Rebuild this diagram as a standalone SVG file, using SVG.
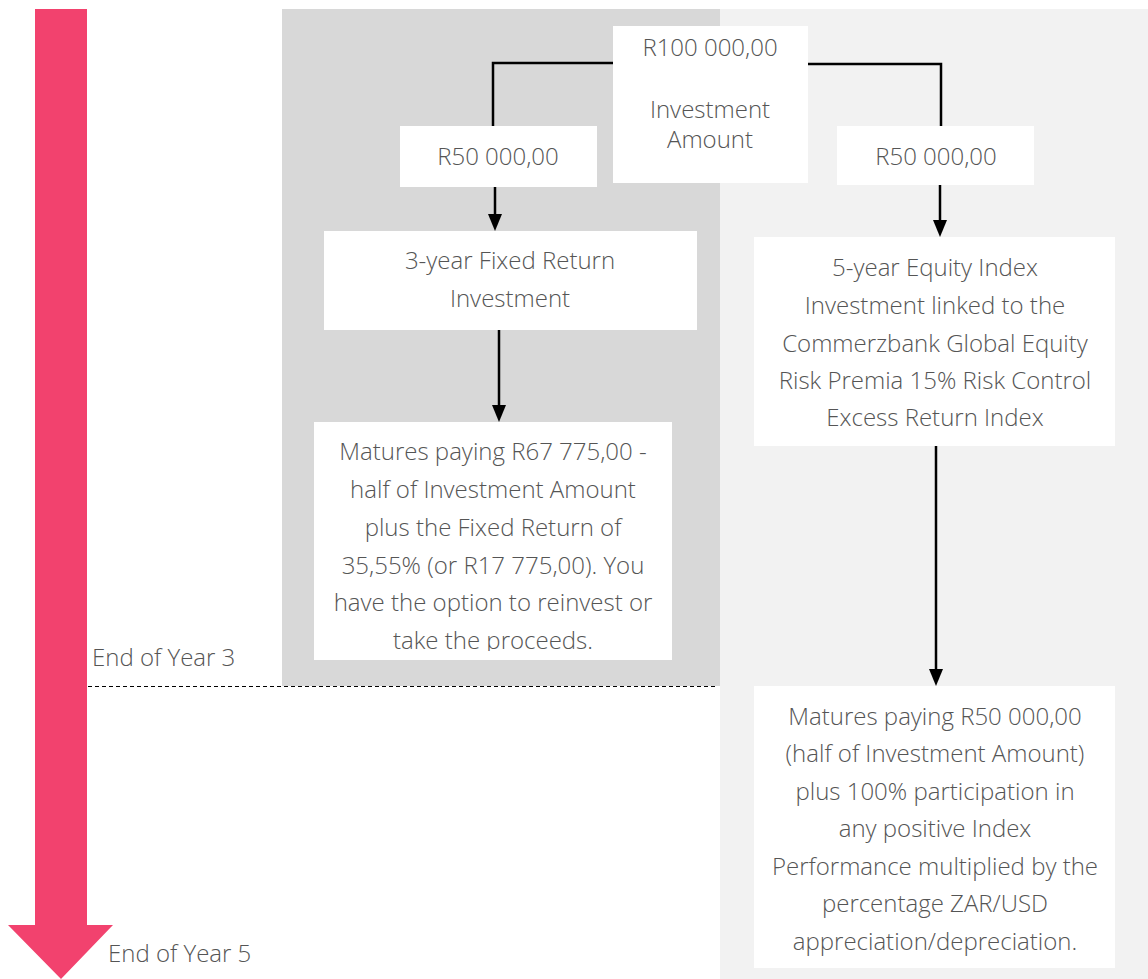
<svg xmlns="http://www.w3.org/2000/svg" width="1148" height="979" viewBox="0 0 1148 979">
<defs>
<style>
.t{font-family:"Open Sans","Liberation Sans",sans-serif;font-weight:300;font-size:24px;fill:#555555;text-anchor:middle}
.l{text-anchor:start}
.box{fill:#ffffff}
.c{stroke:#000;stroke-width:2.5;fill:none}
</style>
<clipPath id="clipL"><rect x="314" y="422" width="358" height="229"/></clipPath>
</defs>
<rect width="1148" height="979" fill="#ffffff"/>
<rect x="282" y="9" width="438" height="677" fill="#d8d8d8"/>
<rect x="720" y="9" width="428" height="970" fill="#f2f2f2"/>
<g id="timeline">
<polygon points="35,9 87,9 87,925 113,925 61,979 8,925 35,925" fill="#f2426e"/>
<line x1="88" y1="686.5" x2="718" y2="686.5" stroke="#000" stroke-width="1" stroke-dasharray="4,3"/>
<text class="t l" x="92" y="666">End of Year 3</text>
<text class="t l" x="108" y="962">End of Year 5</text>
</g>
<g id="connectors">
<polyline class="c" points="613,63 493,63 493,126"/>
<line class="c" x1="495" y1="187" x2="495" y2="216"/>
<polygon points="488,214 502,214 495,231"/>
<polyline class="c" points="808,64 941,64 941,126"/>
<line class="c" x1="940" y1="185" x2="940" y2="222"/>
<polygon points="933,220 947,220 940,237"/>
<line class="c" x1="499" y1="330" x2="499" y2="407"/>
<polygon points="492,405 506,405 499,422"/>
<line class="c" x1="936" y1="446" x2="936" y2="671"/>
<polygon points="929,669 943,669 936,686"/>
</g>
<g id="investment">
<rect class="box" x="613" y="26" width="195" height="157"/>
<text class="t" x="710" y="56">R100 000,00</text>
<text class="t" x="710" y="118">Investment</text>
<text class="t" x="710" y="148">Amount</text>
</g>
<g id="left-amount">
<rect class="box" x="400" y="126" width="197" height="61"/>
<text class="t" x="498" y="165">R50 000,00</text>
</g>
<g id="right-amount">
<rect class="box" x="837" y="126" width="197" height="59"/>
<text class="t" x="936" y="165">R50 000,00</text>
</g>
<g id="fixed">
<rect class="box" x="324" y="231" width="373" height="99"/>
<text class="t" x="510" y="269">3-year Fixed Return</text>
<text class="t" x="510" y="307">Investment</text>
</g>
<g id="fixed-maturity">
<rect class="box" x="314" y="422" width="358" height="238"/>
<g clip-path="url(#clipL)">
<text class="t" x="493" y="460">Matures paying R67 775,00 -</text>
<text class="t" x="493" y="498">half of Investment Amount</text>
<text class="t" x="493" y="536">plus the Fixed Return of</text>
<text class="t" x="493" y="574">35,55% (or R17 775,00). You</text>
<text class="t" x="493" y="611">have the option to reinvest or</text>
<text class="t" x="493" y="649">take the proceeds.</text>
</g>
</g>
<g id="equity">
<rect class="box" x="754" y="237" width="361" height="209"/>
<text class="t" x="935" y="276">5-year Equity Index</text>
<text class="t" x="935" y="314">Investment linked to the</text>
<text class="t" x="935" y="352">Commerzbank Global Equity</text>
<text class="t" x="935" y="389">Risk Premia 15% Risk Control</text>
<text class="t" x="935" y="426">Excess Return Index</text>
</g>
<g id="equity-maturity">
<rect class="box" x="754" y="686" width="361" height="282"/>
<text class="t" x="935" y="725">Matures paying R50 000,00</text>
<text class="t" x="935" y="762">(half of Investment Amount)</text>
<text class="t" x="935" y="800">plus 100% participation in</text>
<text class="t" x="935" y="837">any positive Index</text>
<text class="t" x="935" y="875">Performance multiplied by the</text>
<text class="t" x="935" y="912">percentage ZAR/USD</text>
<text class="t" x="935" y="950">appreciation/depreciation.</text>
</g>
</svg>
